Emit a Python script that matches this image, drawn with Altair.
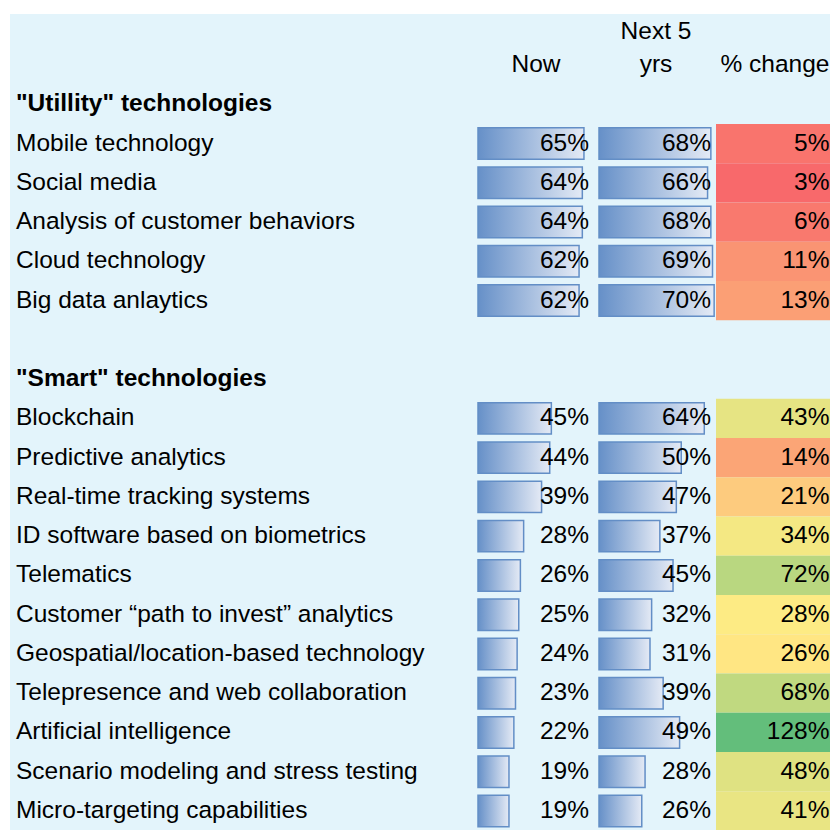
import altair as alt
import pandas as pd

# ---- data ----
group_titles = ['"Utillity" technologies', '"Smart" technologies']

labels_utility = ["Mobile technology", "Social media", "Analysis of customer behaviors",
                  "Cloud technology", "Big data anlaytics"]
now_utility = [65, 64, 64, 62, 62]
next_utility = [68, 66, 68, 69, 70]
chg_utility = [5, 3, 6, 11, 13]

labels_smart = ["Blockchain", "Predictive analytics", "Real-time tracking systems",
                "ID software based on biometrics", "Telematics",
                "Customer \u201cpath to invest\u201d analytics",
                "Geospatial/location-based technology",
                "Telepresence and web collaboration", "Artificial intelligence",
                "Scenario modeling and stress testing", "Micro-targeting capabilities"]
now_smart = [45, 44, 39, 28, 26, 25, 24, 23, 22, 19, 19]
next_smart = [64, 50, 47, 37, 45, 32, 31, 39, 49, 28, 26]
chg_smart = [43, 14, 21, 34, 72, 28, 26, 68, 128, 48, 41]

header_labels = ["Now", "Next 5", "yrs", "% change"]

# ---- tables ----
rows = []
for i, lab in enumerate(labels_utility):
    rows.append(dict(row=2 + i, label=lab, now=now_utility[i], nxt=next_utility[i], chg=chg_utility[i]))
for i, lab in enumerate(labels_smart):
    rows.append(dict(row=9 + i, label=lab, now=now_smart[i], nxt=next_smart[i], chg=chg_smart[i]))
df = pd.DataFrame(rows)
df["now_t"] = df["now"].astype(str) + "%"
df["nxt_t"] = df["nxt"].astype(str) + "%"
df["chg_t"] = df["chg"].astype(str) + "%"

titles = pd.DataFrame({"row": [1, 8], "label": group_titles})

FONT = "Liberation Sans"
FS = 24.5
W = 822
yscale = alt.Scale(domain=[0, 19], range=[57, 803])
Y = alt.Y("row:Q", scale=yscale, axis=None)

all_chg = chg_utility + chg_smart
med = float(pd.Series(all_chg).median())
cscale = alt.Scale(domain=[min(all_chg), med, max(all_chg)],
                   range=["#F8696B", "#FFEB84", "#63BE7B"], interpolate="rgb")

base = alt.Chart(df)

bg = alt.Chart(pd.DataFrame({"a": [0]})).mark_rect(fill="#E3F4FB").encode(
    x=alt.value(2), x2=alt.value(W), y=alt.value(6), y2=alt.value(W))

heat = base.transform_calculate(r0="datum.row - 0.5", r1="datum.row + 0.5").mark_rect().encode(
    x=alt.value(708), x2=alt.value(W),
    y=alt.Y("r0:Q", scale=yscale, axis=None), y2="r1:Q",
    color=alt.Color("chg:Q", scale=cscale, legend=None))

grad = alt.Gradient(gradient="linear",
                    stops=[alt.GradientStop(color="#6690C8", offset=0),
                           alt.GradientStop(color="#E4EAF5", offset=1)],
                    x1=0, x2=1, y1=0, y2=0)

bars_now = base.transform_calculate(b0="datum.row - 0.4", b1="datum.row + 0.4").mark_rect(
    fill=grad, stroke="#638EC6", strokeWidth=1.5).encode(
    x=alt.X("now:Q", scale=alt.Scale(domain=[0, 100], range=[470, 633]), axis=None),
    x2=alt.datum(0),
    y=alt.Y("b0:Q", scale=yscale, axis=None), y2="b1:Q")

bars_next = base.transform_calculate(b0="datum.row - 0.4", b1="datum.row + 0.4").mark_rect(
    fill=grad, stroke="#638EC6", strokeWidth=1.5).encode(
    x=alt.X("nxt:Q", scale=alt.Scale(domain=[0, 100], range=[591, 755.5]), axis=None),
    x2=alt.datum(0),
    y=alt.Y("b0:Q", scale=yscale, axis=None), y2="b1:Q")

txt = dict(font=FONT, fontSize=FS, baseline="middle", color="black")

labels = base.mark_text(align="left", **txt).encode(x=alt.value(8), y=Y, text="label:N")
t_now = base.mark_text(align="right", **txt).encode(x=alt.value(581), y=Y, text="now_t:N")
t_nxt = base.mark_text(align="right", **txt).encode(x=alt.value(703), y=Y, text="nxt_t:N")
t_chg = base.mark_text(align="right", **txt).encode(x=alt.value(W - 0.5), y=Y, text="chg_t:N")

t_titles = alt.Chart(titles).mark_text(align="left", fontWeight="bold", **txt).encode(
    x=alt.value(8), y=Y, text="label:N")

hdr = pd.DataFrame({"label": header_labels, "row": [0, -0.85, 0, 0], "col": ["now", "nxt", "nxt", "chg"]})
h_now = alt.Chart(hdr).transform_filter("datum.col == 'now'").mark_text(align="center", **txt).encode(
    x=alt.value(528), y=Y, text="label:N")
h_nxt = alt.Chart(hdr).transform_filter("datum.col == 'nxt'").mark_text(align="center", **txt).encode(
    x=alt.value(648), y=Y, text="label:N")
h_chg = alt.Chart(hdr).transform_filter("datum.col == 'chg'").mark_text(align="right", **txt).encode(
    x=alt.value(W - 0.5), y=Y, text="label:N")

chart = alt.layer(bg, heat, bars_now, bars_next, labels, t_now, t_nxt, t_chg, t_titles,
                  h_now, h_nxt, h_chg).resolve_scale(x="independent").properties(
    width=W, height=W, padding=0, background="white",
    autosize=alt.AutoSizeParams(type="none")).configure_view(stroke=None)

chart.save("out.html", embed_options={"renderer": "svg", "actions": False})
